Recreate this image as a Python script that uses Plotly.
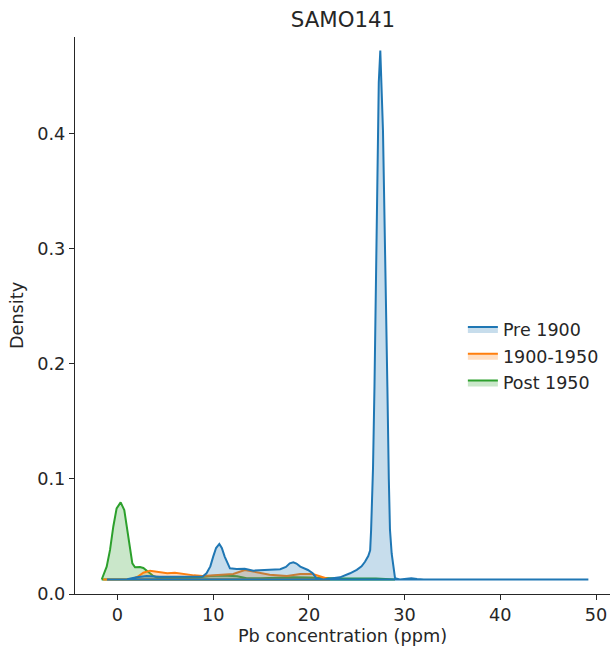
import plotly.graph_objects as go

# ---- data ----
series_names = ["Pre 1900", "1900-1950", "Post 1950"]
colors = ["#1f77b4", "#ff7f0e", "#2ca02c"]
fills = ["rgba(31,119,180,0.25)", "rgba(255,127,14,0.25)", "rgba(44,160,44,0.25)"]

pre_x = [-1.1, 1.0, 2.0, 3.05, 4.4, 6.0, 7.5, 8.9, 9.3, 9.7, 10.0, 10.3, 10.64, 10.9, 11.2, 11.5,
         11.75, 12.45, 13.3, 14.2, 15.6, 17.0, 17.6, 18.0, 18.37, 18.7, 19.1, 19.9, 20.4, 20.8,
         21.5, 22.5, 23.25, 24.3, 25.0, 25.5, 25.86, 26.2, 26.4, 26.5, 26.7, 26.85, 27.0, 27.1,
         27.19, 27.3, 27.46, 27.6, 27.74, 27.85, 28.03, 28.2, 28.35, 28.47, 28.65, 28.85, 29.0,
         29.5, 30.2, 30.7, 31.3, 32.0, 35.0, 40.0, 45.0, 49.2]
pre_y = [0.0126, 0.0128, 0.0145, 0.0157, 0.0150, 0.0150, 0.0150, 0.0152, 0.0180, 0.0240, 0.0325,
         0.0400, 0.0435, 0.0400, 0.0325, 0.0260, 0.0223, 0.0217, 0.0220, 0.0203, 0.0209, 0.0215,
         0.0235, 0.0267, 0.0276, 0.0265, 0.0238, 0.0209, 0.0180, 0.0137, 0.0126, 0.0135, 0.0145,
         0.0180, 0.0210, 0.0240, 0.0280, 0.0330, 0.0380, 0.0560, 0.1100, 0.1800, 0.2730, 0.3400,
         0.4030, 0.4450, 0.4725, 0.4450, 0.4030, 0.3500, 0.2730, 0.1800, 0.1000, 0.0560, 0.0350,
         0.0200, 0.0137, 0.0127, 0.0130, 0.0137, 0.0130, 0.0126, 0.0126, 0.0126, 0.0126, 0.0126]

mid_x = [-1.5, 0.0, 1.5, 2.1, 2.7, 3.4, 4.4, 5.2, 6.0, 7.2, 8.0, 8.9, 10.4, 12.1, 13.3, 14.5,
         15.9, 17.7, 19.1, 20.4, 21.5, 22.2]
mid_y = [0.0126, 0.0126, 0.0128, 0.0150, 0.0185, 0.0203, 0.0191, 0.0180, 0.0185, 0.0168, 0.0162,
         0.0157, 0.0162, 0.0174, 0.0209, 0.0191, 0.0168, 0.0157, 0.0174, 0.0174, 0.0145, 0.0126]

post_x = [-1.65, -1.13, -0.78, -0.44, -0.09, 0.33, 0.71, 1.03, 1.31, 1.55, 1.83, 2.35, 2.7, 3.22,
          3.74, 4.26, 5.5, 7.0, 8.5, 9.7, 11.0, 12.5, 13.5, 15.0, 16.5, 18.3, 20.0, 21.5, 23.0,
          25.0, 27.0, 29.0]
post_y = [0.0126, 0.0238, 0.0383, 0.0585, 0.0745, 0.0797, 0.0730, 0.0557, 0.0383, 0.0267, 0.0232,
          0.0235, 0.0226, 0.0194, 0.0157, 0.0139, 0.0142, 0.0142, 0.0145, 0.0157, 0.0160, 0.0155,
          0.0137, 0.0138, 0.0142, 0.0145, 0.0143, 0.0138, 0.0135, 0.0135, 0.0135, 0.0126]

x_ticks = [0, 10, 20, 30, 40, 50]
y_ticks = [0.0, 0.1, 0.2, 0.3, 0.4]

xs = [pre_x, mid_x, post_x]
ys = [pre_y, mid_y, post_y]

FONT = "DejaVu Sans"
TXT = "#262626"
fig = go.Figure()
# draw last hue first so "Pre 1900" sits on top
for i in [2, 1, 0]:
    x = list(xs[i]) + [xs[i][0]]
    y = list(ys[i]) + [ys[i][0]]
    fig.add_trace(go.Scatter(
        x=x, y=y, mode="lines", fill="toself", fillcolor=fills[i],
        line=dict(color=colors[i], width=2),
        name=series_names[i], legendgroup=series_names[i], legendrank=i + 1,
        hoverinfo="skip",
    ))

axis_common = dict(
    showgrid=False, zeroline=False, showline=True, linecolor=TXT, linewidth=1.3,
    ticks="outside", ticklen=5, tickwidth=1.3, tickcolor=TXT,
    tickfont=dict(family=FONT, size=17.7, color=TXT),
)
fig.update_xaxes(range=[-4.44, 51.46], tickvals=x_ticks, ticktext=[str(v) for v in x_ticks],
                 title=dict(text="Pb concentration (ppm)", font=dict(family=FONT, size=17.7, color=TXT),
                            standoff=5),
                 **axis_common)
fig.update_yaxes(range=[0, 0.4843], tickvals=y_ticks, ticktext=[f"{v:.1f}" for v in y_ticks],
                 title=dict(text="Density", font=dict(family=FONT, size=17.7, color=TXT),
                            standoff=8),
                 **axis_common)

fig.update_layout(
    width=610, height=646,
    margin=dict(l=75, r=0, t=37, b=52),
    paper_bgcolor="white", plot_bgcolor="white",
    title=dict(text="SAMO141", x=343 / 610, xanchor="center", xref="container",
               y=1 - 20 / 646, yanchor="middle", yref="container",
               font=dict(family=FONT, size=21.3, color=TXT)),
    showlegend=True,
    legend=dict(x=0.725, xanchor="left", y=0.427, yanchor="middle",
                font=dict(family=FONT, size=17.5, color=TXT),
                tracegroupgap=1, bgcolor="rgba(0,0,0,0)"),
)

fig.write_html("out.html",
               config={"displayModeBar": False},
               post_script="document.body.style.margin='0';document.body.style.overflow='hidden';")
